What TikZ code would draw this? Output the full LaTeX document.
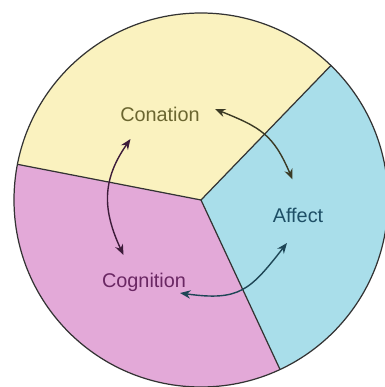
\documentclass[tikz,border=0pt]{standalone}
\usepackage{fontspec}
\setmainfont{Liberation Sans}
\usepackage{tikz}
\usetikzlibrary{arrows.meta}
\usepackage{xcolor}
\definecolor{pieyellow}{RGB}{250,242,191}
\definecolor{piepink}{RGB}{227,169,216}
\definecolor{pieblue}{RGB}{169,222,234}
\definecolor{textolive}{RGB}{107,102,48}
\definecolor{textteal}{RGB}{30,79,102}
\definecolor{textpurple}{RGB}{106,39,99}
\definecolor{arrolive}{RGB}{59,58,37}
\definecolor{arrpurple}{RGB}{61,28,58}
\definecolor{arrteal}{RGB}{30,70,86}

\begin{document}
\begin{tikzpicture}[
    sector/.style={draw=black!80, line width=0.7pt},
    label/.style={anchor=base, inner sep=2pt, font=\fontsize{11.3}{13}\selectfont},
    link/.style={{Stealth[length=6pt,width=4.8pt]}-{Stealth[length=6pt,width=4.8pt]}, line width=0.8pt}
  ]
  \useasboundingbox (-4.02,-3.74) rectangle (3.66,4.00);
  \coordinate (O) at (0,0);

  % the three sectors
  \fill[pieyellow] (O) -- (46:3.74) arc[start angle=46, end angle=169, radius=3.74] -- cycle;
  \fill[piepink] (O) -- (169:3.74) arc[start angle=169, end angle=295, radius=3.74] -- cycle;
  \fill[pieblue] (O) -- (-65:3.74) arc[start angle=-65, end angle=46, radius=3.74] -- cycle;
  \draw[sector] (O) circle[radius=3.74];
  \draw[sector] (169:3.74) -- (O) -- (46:3.74);
  \draw[sector] (O) -- (-65:3.74);

  % labels
  \node[label, text=textolive] (Conation) at (-0.82,1.57) {Conation};
  \node[label, text=textteal] (Affect) at (1.94,-0.45) {Affect};
  \node[label, text=textpurple] (Cognition) at (-1.14,-1.74) {Cognition};

  % arrows between the labels
  \draw[link, arrolive]
    ([shift={(1.10,0.25)}]Conation.base) to[out=-22, in=113, looseness=1.2]
    ([shift={(-0.11,0.86)}]Affect.base);
  \draw[link, arrpurple]
    ([shift={(-0.59,-0.35)}]Conation.base) to[out=235, in=115, looseness=1.1]
    ([shift={(-0.41,0.64)}]Cognition.base);
  \draw[link, arrteal]
    ([shift={(-0.22,-0.41)}]Affect.base) to[out=232, in=-8, looseness=1.3]
    ([shift={(0.72,-0.12)}]Cognition.base);
\end{tikzpicture}
\end{document}
